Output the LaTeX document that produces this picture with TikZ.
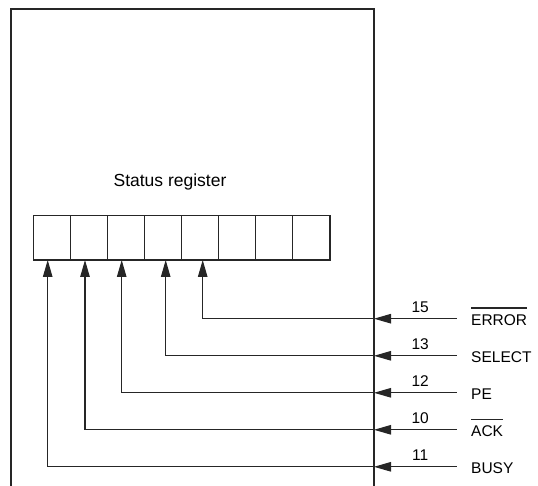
\documentclass[tikz,border=0pt]{standalone}
\usepackage{fontspec}
\setmainfont{Liberation Sans}
\usetikzlibrary{arrows.meta}
\begin{document}
\begin{tikzpicture}[x=1pt,y=-1pt,
  ln/.style={line width=1.1pt, draw=black!85},
  cell/.style={ln, minimum width=37.09pt, minimum height=44.3pt, inner sep=0pt, outer sep=0pt},
  tipend/.style={-{Triangle[length=17pt,width=9.5pt]}},
  lab/.style={font=\fontsize{15.5}{18}\selectfont, inner sep=0pt}]
\useasboundingbox (0,0) rectangle (538,486);
\draw[ln] (11,486) -- (11,9) -- (374,9) -- (374,486);
\node[font=\fontsize{17.5}{20}\selectfont, inner sep=0pt, anchor=base] (title) at (170,186.7) {Status register};
\foreach \i in {0,...,7}
  \node[cell] (c\i) at ({33.3+37.09*(\i+0.5)},237.85) {};
\foreach \c/\ax/\y/\num/\name/\ov in {4/202.7/318.7/15/ERROR/1, 3/165.7/355.8/13/SELECT/0, 2/121.7/392.8/12/PE/0, 1/85/429.8/10/ACK/1, 0/47.7/466.8/11/BUSY/0} {
  \node[lab, anchor=base west] (n\c) at (471,{\y+6.3}) {\name};
  \node[lab, anchor=base] (num\c) at (420.2,{\y-6.5}) {\num};
  \coordinate (s\c) at (456.7,\y);
  \coordinate (e\c) at (374,\y);
  \coordinate (k\c) at (\ax,\y);
  \draw[ln,tipend] (s\c) -- (e\c);
  \draw[ln,tipend] (e\c) -- (k\c) -- (k\c |- c\c.south);
  \ifnum\ov=1
    \draw[ln] ([yshift=6pt]n\c.north west) -- ([yshift=6pt]n\c.north east);
  \fi
}
\end{tikzpicture}
\end{document}
